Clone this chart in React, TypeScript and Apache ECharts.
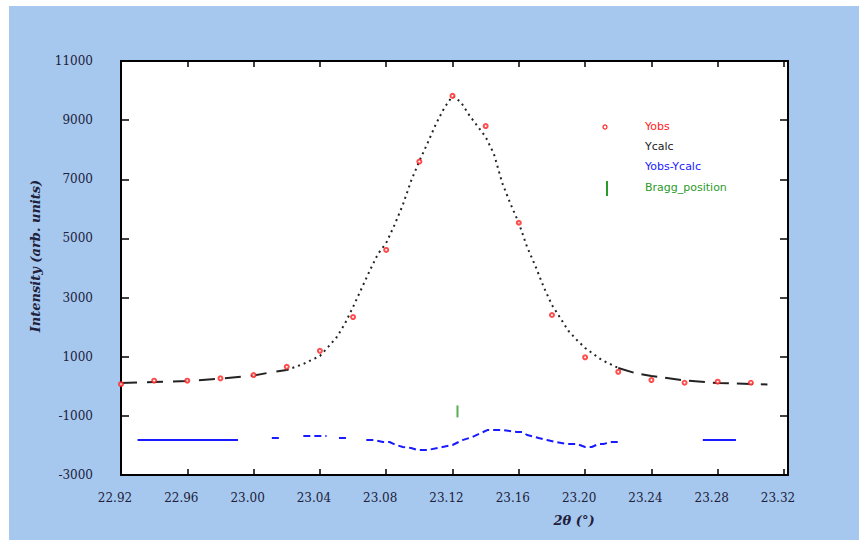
import React, { useEffect, useRef } from "react";
import * as echarts from "echarts";

// Observed points (Yobs)
const obsX = [22.92, 22.94, 22.96, 22.98, 23.0, 23.02, 23.04, 23.06, 23.08, 23.1, 23.12, 23.14, 23.16, 23.18, 23.2, 23.22, 23.24, 23.26, 23.28, 23.3];
const obsY = [70, 190, 190, 270, 380, 660, 1200, 2340, 4610, 7600, 9820, 8800, 5530, 2410, 980, 490, 210, 120, 155, 120];

// Calculated profile (Ycalc)
const calcX = [22.92, 22.94, 22.96, 22.98, 23.0, 23.01, 23.02, 23.03, 23.035, 23.04, 23.045, 23.05, 23.055, 23.06, 23.065, 23.07, 23.075, 23.08, 23.085, 23.09, 23.095, 23.1, 23.105, 23.11, 23.115, 23.12, 23.125, 23.13, 23.135, 23.14, 23.145, 23.15, 23.155, 23.16, 23.165, 23.17, 23.175, 23.18, 23.185, 23.19, 23.195, 23.2, 23.21, 23.22, 23.23, 23.24, 23.26, 23.28, 23.3, 23.31];
const calcY = [110, 145, 180, 260, 365, 467, 550, 754, 890, 1025, 1330, 1650, 2107, 2682, 3290, 3900, 4474, 4846, 5455, 6131, 6943, 7620, 8228, 8871, 9412, 9818, 9615, 9175, 8803, 8431, 7856, 6875, 6165, 5523, 4711, 4068, 3358, 2749, 2310, 1870, 1566, 1295, 890, 619, 450, 348, 196, 111, 78, 60];

// Difference curve (Yobs-Ycalc, offset); null = gap
const diffX = [22.93, 22.96, 22.9906, 22.995, 23.011, 23.017, 23.022, 23.03, 23.044, 23.048, 23.0515, 23.0575, 23.062, 23.068, 23.073, 23.078, 23.082, 23.086, 23.09, 23.095, 23.099, 23.105, 23.111, 23.114, 23.12, 23.126, 23.132, 23.141, 23.145, 23.15, 23.159, 23.162, 23.165, 23.172, 23.177, 23.182, 23.189, 23.195, 23.2, 23.204, 23.208, 23.211, 23.216, 23.22, 23.245, 23.271, 23.291];
const diffY = [-1820, -1820, -1820, null, -1750, -1750, null, -1680, -1680, null, -1750, -1750, null, -1820, -1820, -1884, -1884, -1985, -2053, -2087, -2155, -2155, -2087, -2053, -1985, -1820, -1715, -1480, -1480, -1480, -1546, -1546, -1647, -1750, -1816, -1884, -1952, -1952, -2053, -2053, -1952, -1952, -1884, -1884, null, -1816, -1816];

// Bragg reflection positions
const braggX = [23.123];
const braggY = [-850];

const yTicks = [-3000, -1000, 1000, 3000, 5000, 7000, 9000, 11000];
const xTicks = [22.92, 22.96, 23.0, 23.04, 23.08, 23.12, 23.16, 23.2, 23.24, 23.28, 23.32];

const legendNames = ["Yobs", "Ycalc", "Yobs-Ycalc", "Bragg_position"];

export default function App() {
  const ref = useRef<HTMLDivElement>(null);
  useEffect(() => {
    if (!ref.current) return;
    const chart = echarts.init(ref.current, undefined, { renderer: "svg" });

    const obsData = obsX.map((x, i) => [x, obsY[i]]);
    const calcPairs = calcX.map((x, i) => [x, calcY[i]]);
    const calcLeft = calcPairs.filter((p) => p[0] <= 23.02 + 1e-9);
    const calcMid = calcPairs.filter((p) => p[0] >= 23.02 - 1e-9 && p[0] <= 23.22 + 1e-9);
    const calcRight = calcPairs.filter((p) => p[0] >= 23.22 - 1e-9);
    const diffPairs = diffX.map((x, i) => [x, diffY[i] === null ? "-" : diffY[i]]);
    const diffOuter = diffPairs.map((p) => (p[0] < 23.0 || p[0] > 23.25 ? p : [p[0], "-"]));
    const diffInner = diffPairs.map((p) => (p[0] < 23.0 || p[0] > 23.25 ? [p[0], "-"] : p));

    const tickFont = {
      fontFamily: "DejaVu Serif",
      fontSize: 12,
      color: "#20203a",
    };

    const axisLine = { show: true, onZero: false, lineStyle: { color: "#000", width: 2 } };
    const tickStyle = { color: "#000", width: 1.5 };

    chart.setOption({
      animation: false,
      backgroundColor: "#a6c8ee",
      grid: {
        left: 112,
        top: 55,
        right: 71,
        bottom: 65,
        show: true,
        backgroundColor: "#ffffff",
        borderWidth: 0,
      },
      xAxis: [
        {
          type: "value",
          position: "bottom",
          min: 22.92,
          max: 23.3224,
          axisLine,
          axisTick: { show: true, inside: true, length: 6, customValues: xTicks, lineStyle: tickStyle },
          axisLabel: {
            ...tickFont,
            customValues: xTicks,
            margin: 17,
            padding: [0, 12, 0, 0],
            formatter: (v: number) => v.toFixed(2),
          },
          splitLine: { show: false },
        },
        {
          type: "value",
          position: "top",
          min: 22.92,
          max: 23.3224,
          axisLine,
          axisTick: { show: true, inside: true, length: 6, customValues: xTicks, lineStyle: tickStyle },
          axisLabel: { show: false },
          splitLine: { show: false },
        },
      ],
      yAxis: [
        {
          type: "value",
          position: "left",
          min: -3000,
          max: 11000,
          axisLine,
          axisTick: { show: true, inside: true, length: 8, customValues: yTicks, lineStyle: tickStyle },
          axisLabel: { ...tickFont, customValues: yTicks, margin: 28, formatter: (v: number) => String(Math.round(v)) },
          splitLine: { show: false },
        },
        {
          type: "value",
          position: "right",
          min: -3000,
          max: 11000,
          axisLine,
          axisTick: { show: true, inside: true, length: 8, customValues: yTicks, lineStyle: tickStyle },
          axisLabel: { show: false },
          splitLine: { show: false },
        },
      ],
      series: [
        {
          name: legendNames[1],
          type: "line",
          data: calcLeft,
          showSymbol: false,
          lineStyle: { color: "#222", width: 2, type: [16, 10] },
          z: 2,
        },
        {
          name: legendNames[1],
          type: "line",
          data: calcMid,
          showSymbol: false,
          lineStyle: { color: "#222", width: 2, type: [2, 4] },
          z: 2,
        },
        {
          name: legendNames[1],
          type: "line",
          data: calcRight,
          showSymbol: false,
          lineStyle: { color: "#222", width: 2, type: [16, 8] },
          z: 2,
        },
        {
          name: legendNames[2],
          type: "line",
          data: diffOuter,
          showSymbol: false,
          connectNulls: false,
          lineStyle: { color: "#1a1aff", width: 2 },
          z: 2,
        },
        {
          name: legendNames[2],
          type: "line",
          data: diffInner,
          showSymbol: false,
          connectNulls: false,
          lineStyle: { color: "#1a1aff", width: 2, type: [7, 4] },
          z: 2,
        },
        {
          name: legendNames[0],
          type: "scatter",
          data: obsData,
          symbol: "emptyCircle",
          symbolSize: 4,
          itemStyle: { color: "#ff2020", borderColor: "#ff2020", borderWidth: 1.2 },
          z: 5,
        },
        {
          name: legendNames[3],
          type: "scatter",
          data: braggX.map((x, i) => [x, braggY[i]]),
          symbol: "rect",
          symbolSize: [2, 12],
          itemStyle: { color: "#2a9a2a" },
          z: 4,
        },
      ],
      graphic: [
        {
          type: "text",
          x: 26,
          y: 250,
          rotation: Math.PI / 2,
          style: {
            text: "Intensity (arb. units)",
            font: "italic bold 13px 'DejaVu Serif'",
            fill: "#20203a",
            align: "center",
            verticalAlign: "middle",
          },
        },
        {
          type: "text",
          x: 565,
          y: 514,
          style: {
            text: "2θ (°)",
            font: "italic bold 13px 'DejaVu Serif'",
            fill: "#20203a",
            align: "center",
            verticalAlign: "middle",
          },
        },
        {
          type: "circle",
          shape: { cx: 596, cy: 121, r: 2 },
          style: { fill: "none", stroke: "#ff2020", lineWidth: 1.2 },
        },
        {
          type: "text",
          x: 636,
          y: 120,
          style: { text: legendNames[0], font: "11px 'DejaVu Sans'", fill: "#ff2020", verticalAlign: "middle" },
        },
        {
          type: "text",
          x: 636,
          y: 140,
          style: { text: legendNames[1], font: "11px 'DejaVu Sans'", fill: "#222", verticalAlign: "middle" },
        },
        {
          type: "text",
          x: 636,
          y: 160,
          style: { text: legendNames[2], font: "11px 'DejaVu Sans'", fill: "#1a1aff", verticalAlign: "middle" },
        },
        {
          type: "rect",
          shape: { x: 597, y: 175, width: 2, height: 15 },
          style: { fill: "#2a9a2a" },
        },
        {
          type: "text",
          x: 636,
          y: 181,
          style: { text: legendNames[3], font: "11px 'DejaVu Sans'", fill: "#2a9a2a", verticalAlign: "middle" },
        },
      ],
    });
    return () => chart.dispose();
  }, []);

  return (
    <div
      ref={ref}
      style={{ position: "absolute", left: 9, top: 6, width: 850, height: 534 }}
    />
  );
}
